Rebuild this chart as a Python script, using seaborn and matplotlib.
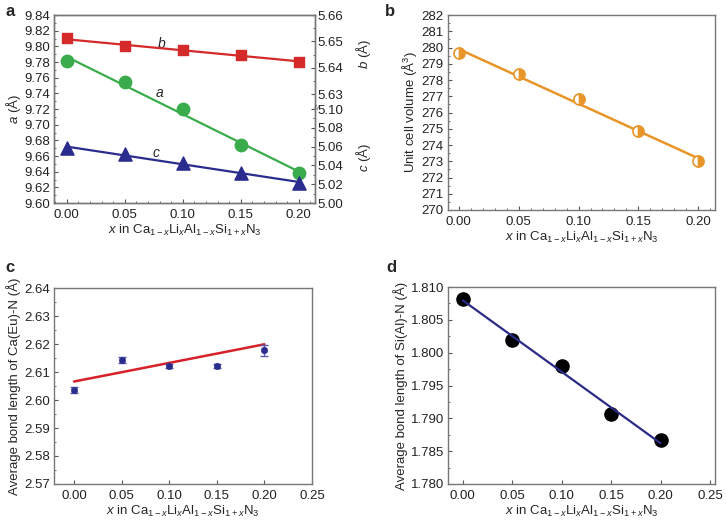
import numpy as np
import seaborn as sns
import matplotlib.pyplot as plt
from matplotlib.ticker import MultipleLocator, FixedLocator, FormatStrFormatter

# composition
x = [0.00, 0.05, 0.10, 0.15, 0.20]

# lattice parameters (A)
a_par = [9.781, 9.754, 9.720, 9.674, 9.638]
b_par = [5.6511, 5.6481, 5.6467, 5.6450, 5.6422]
c_par = [5.058, 5.052, 5.043, 5.032, 5.021]

# unit cell volume (A^3)
volume = [279.65, 278.35, 276.85, 274.85, 273.0]

# Ca(Eu)-N bond length with error bars
ca_n = [2.6035, 2.6142, 2.6121, 2.6122, 2.6178]
ca_n_err = [0.0010, 0.0010, 0.0008, 0.0008, 0.0020]
ca_fit_x = [0.00, 0.20]
ca_fit_y = [2.6066, 2.6199]

# Si(Al)-N bond length
si_n = [1.8082, 1.8020, 1.7979, 1.7906, 1.7867]

right_ticks = [5.00, 5.02, 5.04, 5.06, 5.08, 5.10, 5.63, 5.64, 5.65, 5.66]

sns.set_style('ticks')
plt.rcParams['font.family'] = ['Liberation Sans', 'DejaVu Sans']
plt.rcParams['mathtext.fontset'] = 'custom'
plt.rcParams['mathtext.rm'] = 'Liberation Sans'
plt.rcParams['mathtext.it'] = 'Liberation Sans:italic'
plt.rcParams['font.size'] = 9.5
plt.rcParams['xtick.labelsize'] = 9.5
plt.rcParams['ytick.labelsize'] = 9.5
plt.rcParams['axes.edgecolor'] = '#777777'
plt.rcParams['axes.linewidth'] = 1.0
plt.rcParams['xtick.direction'] = 'in'
plt.rcParams['ytick.direction'] = 'in'
plt.rcParams['xtick.color'] = '#555555'
plt.rcParams['ytick.color'] = '#555555'
plt.rcParams['xtick.labelcolor'] = '#222222'
plt.rcParams['ytick.labelcolor'] = '#222222'
plt.rcParams['xtick.major.size'] = 3
plt.rcParams['ytick.major.size'] = 3
plt.rcParams['xtick.minor.size'] = 1.5
plt.rcParams['ytick.minor.size'] = 1.5
plt.rcParams['xtick.major.pad'] = 4
plt.rcParams['ytick.major.pad'] = 3

red = '#d42a2a'
green = '#3aac4c'
navy = '#2b2d8e'
orange = '#e8952a'

xlabel = r'$x$ in Ca$_{1-x}$Li$_x$Al$_{1-x}$Si$_{1+x}$N$_3$'

fig = plt.figure(figsize=(7.26, 5.25), dpi=100)

# ---------- panel a ----------
ax = fig.add_axes([0.0744, 0.6133, 0.3595, 0.3581])
sns.regplot(x=x, y=a_par, ax=ax, ci=None, marker='o', color=green,
            scatter_kws=dict(s=80, zorder=3, alpha=1), line_kws=dict(lw=1.6, zorder=2))
ax.set_xlim(-0.011, 0.214)
ax.set_ylim(9.60, 9.84)
ax.xaxis.set_major_locator(MultipleLocator(0.05))
ax.xaxis.set_minor_locator(MultipleLocator(0.01))
ax.yaxis.set_major_locator(MultipleLocator(0.02))
ax.yaxis.set_minor_locator(MultipleLocator(0.01))
ax.xaxis.set_major_formatter(FormatStrFormatter('%.2f'))
ax.yaxis.set_major_formatter(FormatStrFormatter('%.2f'))
ax.set_ylabel(r'$a$ (Å)', labelpad=1)
ax.set_xlabel(xlabel, labelpad=2)

# broken right axis: b on top part, c on bottom part
xp = [4.00, 5.00, 5.10, 5.63, 5.66, 6.66]
fp = [8.40, 9.60, 9.72, 9.739, 9.84, 13.21]


def fwd(v):
    return np.interp(np.asarray(v, dtype=float), xp, fp)


def inv(v):
    return np.interp(np.asarray(v, dtype=float), fp, xp)


ax2 = ax.twinx()
ax2.set_yscale('function', functions=(fwd, inv))
sns.regplot(x=x, y=b_par, ax=ax2, ci=None, marker='s', color=red,
            scatter_kws=dict(s=60, zorder=3, alpha=1), line_kws=dict(lw=1.6, zorder=2))
sns.regplot(x=x, y=c_par, ax=ax2, ci=None, marker='^', color=navy,
            scatter_kws=dict(s=90, zorder=3, alpha=1), line_kws=dict(lw=1.6, zorder=2))
ax2.set_ylim(5.00, 5.66)
ax2.yaxis.set_major_locator(FixedLocator(right_ticks))
ax2.yaxis.set_minor_locator(FixedLocator([5.01, 5.03, 5.05, 5.07, 5.09, 5.635, 5.645, 5.655]))
ax2.yaxis.set_major_formatter(FormatStrFormatter('%.2f'))
ax2.tick_params(axis='y', pad=2)
ax2.set_xlim(-0.011, 0.214)
ax2.text(1.012, 0.51, '≈', transform=ax2.transAxes, ha='center', va='center',
         rotation=70, fontsize=7, color='#555555')
ax2.text(1.185, 0.79, r'$b$ (Å)', transform=ax2.transAxes, rotation=90,
         ha='center', va='center')
ax2.text(1.185, 0.24, r'$c$ (Å)', transform=ax2.transAxes, rotation=90,
         ha='center', va='center')

ax.text(0.082, 9.804, r'$b$', ha='center', va='center', fontsize=10)
ax.text(0.080, 9.740, r'$a$', ha='center', va='center', fontsize=10)
ax.text(0.077, 9.664, r'$c$', ha='center', va='center', fontsize=10)

# ---------- panel b ----------
axb = fig.add_axes([0.6171, 0.6, 0.3678, 0.3714])
sns.regplot(x=x, y=volume, ax=axb, ci=None, scatter=False, color=orange,
            line_kws=dict(lw=1.8, zorder=2))
axb.plot(x, volume, ls='none', marker='o', ms=8, fillstyle='right',
         markerfacecolor=orange, markerfacecoloralt='white',
         markeredgecolor=orange, markeredgewidth=1.2, zorder=3)
axb.set_xlim(-0.009, 0.214)
axb.set_ylim(270, 282)
axb.xaxis.set_major_locator(MultipleLocator(0.05))
axb.xaxis.set_minor_locator(MultipleLocator(0.01))
axb.yaxis.set_major_locator(MultipleLocator(1))
axb.yaxis.set_minor_locator(MultipleLocator(0.5))
axb.xaxis.set_major_formatter(FormatStrFormatter('%.2f'))
axb.set_ylabel(r'Unit cell volume (Å$^3$)', labelpad=2)
axb.set_xlabel(xlabel, labelpad=2)

# ---------- panel c ----------
axc = fig.add_axes([0.0744, 0.0781, 0.3554, 0.3733])
sns.lineplot(x=ca_fit_x, y=ca_fit_y, ax=axc, color='#d8202a', lw=1.8, zorder=2)
axc.errorbar(x, ca_n, yerr=ca_n_err, fmt='none', ecolor='#5a5ab0',
             elinewidth=1.0, capsize=3, capthick=1.0, zorder=3)
sns.scatterplot(x=x, y=ca_n, ax=axc, color=navy, s=22, edgecolor=navy, zorder=4)
axc.set_xlim(-0.021, 0.25)
axc.set_ylim(2.57, 2.64)
axc.xaxis.set_major_locator(MultipleLocator(0.05))
axc.yaxis.set_major_locator(MultipleLocator(0.01))
axc.yaxis.set_minor_locator(MultipleLocator(0.005))
axc.xaxis.set_major_formatter(FormatStrFormatter('%.2f'))
axc.yaxis.set_major_formatter(FormatStrFormatter('%.2f'))
axc.set_ylabel('Average bond length of Ca(Eu)-N (Å)', labelpad=2)
axc.set_xlabel(xlabel, labelpad=2)

# ---------- panel d ----------
axd = fig.add_axes([0.6171, 0.0781, 0.3678, 0.3752])
sns.regplot(x=x, y=si_n, ax=axd, ci=None, color='black', marker='o',
            scatter_kws=dict(s=90, zorder=2, alpha=1),
            line_kws=dict(color='#2b2b86', lw=1.6, zorder=3))
axd.set_xlim(-0.015, 0.255)
axd.set_ylim(1.780, 1.810)
axd.xaxis.set_major_locator(MultipleLocator(0.05))
axd.yaxis.set_major_locator(MultipleLocator(0.005))
axd.yaxis.set_minor_locator(MultipleLocator(0.0025))
axd.xaxis.set_major_formatter(FormatStrFormatter('%.2f'))
axd.yaxis.set_major_formatter(FormatStrFormatter('%.3f'))
axd.set_ylabel('Average bond length of Si(Al)-N (Å)', labelpad=2)
axd.set_xlabel(xlabel, labelpad=2)

# panel letters
for lbl, px, py in [('a', 5, 12), ('b', 385, 12), ('c', 5, 268), ('d', 386, 268)]:
    fig.text(px / 726, 1 - py / 525, lbl, fontsize=12, fontweight='bold',
             ha='left', va='center')

fig.savefig('out.png', dpi=100)
